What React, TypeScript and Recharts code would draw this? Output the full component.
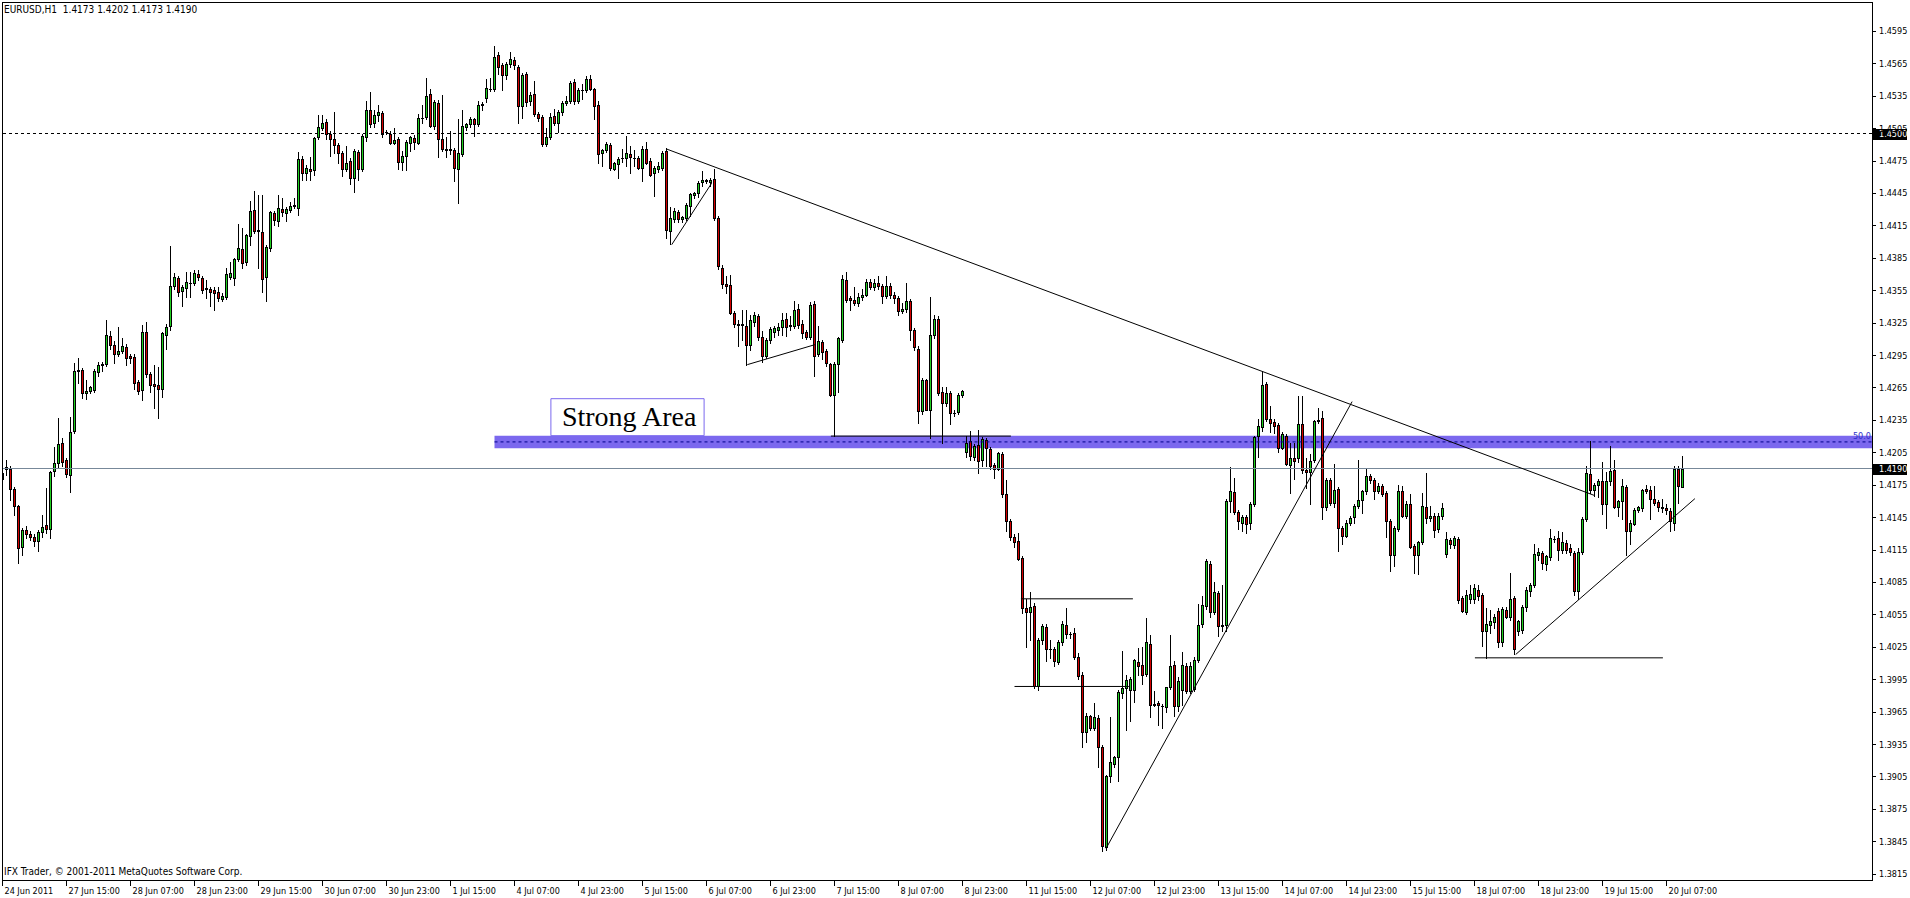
import React from 'react';
import {
  ComposedChart, Bar, XAxis, YAxis, ReferenceLine, ReferenceArea,
} from 'recharts';

// prices are stored as pips above BASE (1.3800)
const BASE = 1.38;

const OPEN = [
  380, 390, 390, 371, 355, 317, 333, 329, 327, 323,
  331, 338, 334, 388, 395, 414, 398, 384, 425, 480,
  481, 460, 462, 463, 479, 486, 487, 513, 504, 496,
  499, 502, 494, 493, 470, 463, 516, 477, 468, 467,
  464, 514, 522, 559, 566, 554, 557, 562, 562, 570,
  566, 556, 556, 555, 553, 547, 549, 567, 566, 584,
  593, 581, 605, 629, 611, 609, 567, 594, 626, 619,
  630, 626, 629, 633, 631, 676, 663, 667, 666, 697,
  705, 711, 700, 695, 689, 682, 667, 675, 659, 683,
  667, 697, 722, 710, 717, 719, 701, 700, 691, 695,
  674, 679, 691, 696, 691, 714, 715, 737, 707, 728,
  695, 686, 685, 685, 667, 681, 706, 709, 713, 709,
  726, 733, 741, 741, 773, 763, 754, 764, 768, 762,
  725, 755, 730, 737, 718, 715, 690, 697, 716, 710,
  720, 728, 730, 748, 730, 740, 740, 750, 741, 726,
  682, 685, 689, 667, 672, 677, 677, 681, 677, 677,
  668, 686, 675, 663, 667, 668, 684, 610, 621, 627,
  621, 622, 633, 643, 645, 655, 657, 655, 658, 622,
  576, 561, 560, 534, 524, 523, 522, 504, 526, 531,
  512, 494, 509, 516, 518, 521, 528, 522, 522, 538,
  524, 516, 512, 542, 496, 507, 499, 487, 458, 487,
  509, 564, 548, 546, 543, 549, 551, 563, 558, 562,
  559, 550, 559, 551, 548, 536, 538, 545, 518, 501,
  443, 472, 444, 514, 528, 461, 451, 460, 441, 442,
  458, 405, 415, 401, 412, 398, 416, 408, 393, 390,
  403, 366, 341, 327, 323, 307, 261, 257, 263, 189,
  231, 243, 223, 223, 211, 229, 245, 237, 238, 216,
  199, 146, 161, 150, 159, 132, 40, 105, 117, 123,
  182, 187, 185, 185, 211, 208, 200, 228, 171, 173,
  170, 169, 188, 208, 170, 185, 207, 184, 186, 213,
  246, 263, 302, 257, 275, 244, 245, 360, 368, 350,
  340, 345, 340, 357, 420, 428, 468, 436, 433, 430,
  409, 420, 393, 400, 400, 431, 389, 387, 398, 434,
  437, 354, 379, 358, 371, 335, 328, 340, 345, 355,
  361, 369, 383, 379, 369, 374, 367, 341, 310, 334,
  369, 346, 357, 318, 310, 322, 354, 344, 346, 334,
  346, 311, 324, 319, 325, 270, 257, 269, 269, 278,
  273, 240, 245, 248, 258, 229, 259, 253, 270, 240,
  241, 262, 277, 282, 310, 312, 302, 308, 325, 326,
  315, 321, 316, 312, 277, 313, 343, 385, 370, 375,
  378, 357, 378, 389, 354, 360, 373, 332, 339, 352,
  353, 371, 370, 362, 359, 354, 353, 351, 340, 390, 373,
];

const HIGH = [
  393, 398, 392, 373, 356, 335, 337, 332, 329, 333,
  347, 372, 388, 410, 437, 418, 400, 438, 488, 492,
  483, 472, 466, 482, 489, 489, 527, 517, 508, 521,
  511, 505, 496, 496, 472, 523, 526, 479, 486, 484,
  516, 524, 596, 571, 568, 560, 572, 572, 574, 574,
  568, 564, 558, 558, 558, 552, 576, 581, 585, 616,
  613, 607, 638, 647, 643, 643, 597, 628, 628, 643,
  640, 632, 637, 640, 683, 679, 671, 678, 697, 717,
  717, 713, 702, 720, 691, 684, 688, 677, 686, 685,
  700, 730, 738, 722, 726, 721, 703, 702, 705, 697,
  684, 694, 698, 699, 718, 726, 751, 741, 731, 731,
  736, 697, 702, 687, 713, 722, 710, 715, 714, 730,
  729, 750, 751, 781, 775, 765, 766, 775, 771, 763,
  756, 757, 738, 749, 720, 717, 705, 719, 723, 722,
  730, 735, 749, 750, 742, 746, 753, 754, 742, 730,
  686, 692, 691, 674, 678, 686, 698, 688, 685, 679,
  688, 692, 677, 670, 674, 684, 687, 632, 631, 629,
  624, 636, 645, 646, 656, 665, 658, 659, 667, 624,
  578, 568, 569, 536, 527, 537, 537, 532, 535, 533,
  517, 511, 521, 522, 525, 534, 534, 531, 545, 542,
  527, 518, 544, 545, 522, 509, 501, 488, 489, 512,
  569, 572, 550, 558, 552, 556, 565, 565, 565, 568,
  561, 568, 562, 553, 550, 543, 562, 547, 520, 503,
  474, 473, 549, 532, 531, 465, 465, 462, 444, 460,
  463, 420, 425, 413, 426, 419, 418, 410, 395, 405,
  405, 379, 343, 329, 330, 309, 269, 276, 266, 233,
  246, 246, 231, 225, 231, 249, 261, 239, 242, 219,
  202, 164, 162, 173, 162, 134, 106, 160, 124, 185,
  221, 199, 197, 214, 224, 225, 252, 236, 184, 175,
  172, 188, 236, 212, 197, 220, 210, 211, 216, 265,
  272, 306, 304, 285, 277, 282, 362, 391, 381, 352,
  347, 347, 359, 420, 436, 479, 470, 448, 436, 432,
  424, 422, 414, 414, 457, 457, 400, 403, 435, 446,
  443, 381, 381, 394, 373, 337, 342, 346, 357, 398,
  370, 390, 385, 381, 377, 376, 369, 343, 337, 375,
  374, 360, 366, 320, 323, 367, 386, 355, 349, 349,
  358, 331, 326, 328, 327, 272, 278, 282, 283, 282,
  275, 261, 259, 255, 261, 262, 262, 293, 272, 250,
  264, 280, 284, 320, 316, 314, 310, 334, 328, 332,
  331, 324, 320, 314, 316, 345, 392, 415, 377, 380,
  396, 387, 411, 398, 361, 380, 375, 342, 353, 355,
  371, 375, 374, 374, 361, 362, 357, 353, 392, 392, 402,
];

const LOW = [
  372, 384, 361, 347, 303, 310, 326, 324, 318, 314,
  327, 330, 326, 383, 391, 392, 382, 368, 423, 469,
  455, 454, 460, 461, 476, 480, 485, 501, 488, 494,
  497, 486, 488, 464, 459, 453, 475, 461, 446, 437,
  456, 501, 518, 556, 550, 540, 549, 549, 560, 564,
  552, 548, 540, 537, 545, 545, 547, 565, 560, 582,
  576, 578, 597, 608, 576, 553, 545, 591, 615, 614,
  624, 619, 627, 631, 625, 657, 657, 657, 662, 695,
  703, 695, 679, 682, 673, 661, 665, 653, 646, 657,
  665, 693, 706, 706, 712, 697, 700, 690, 690, 667,
  666, 666, 684, 686, 690, 710, 713, 706, 704, 678,
  684, 678, 681, 656, 636, 679, 703, 706, 698, 707,
  722, 729, 739, 739, 755, 740, 750, 762, 760, 710,
  714, 725, 726, 716, 712, 688, 688, 695, 708, 701,
  717, 726, 728, 727, 728, 732, 738, 740, 713, 673,
  670, 683, 666, 666, 659, 674, 670, 663, 670, 667,
  656, 672, 661, 642, 664, 666, 603, 598, 618, 618,
  618, 620, 624, 640, 641, 651, 654, 651, 620, 575,
  557, 552, 533, 521, 503, 509, 486, 500, 522, 509,
  489, 492, 506, 512, 514, 514, 513, 518, 520, 520,
  511, 510, 510, 476, 494, 491, 485, 457, 420, 461,
  507, 544, 537, 541, 540, 546, 550, 556, 555, 556,
  543, 548, 548, 543, 532, 534, 535, 509, 500, 432,
  440, 444, 418, 511, 458, 414, 448, 431, 439, 440,
  456, 401, 398, 398, 386, 392, 392, 390, 381, 389,
  364, 332, 324, 317, 305, 256, 225, 231, 187, 185,
  228, 212, 215, 207, 209, 227, 233, 233, 214, 195,
  132, 137, 148, 148, 114, 36, 37, 100, 114, 101,
  178, 148, 156, 174, 199, 191, 198, 160, 170, 153,
  150, 165, 186, 161, 166, 171, 182, 182, 184, 211,
  243, 260, 253, 255, 235, 240, 240, 350, 348, 334,
  332, 330, 334, 355, 401, 425, 434, 424, 423, 405,
  408, 393, 367, 380, 396, 386, 372, 357, 396, 432,
  343, 352, 356, 354, 314, 320, 327, 338, 340, 353,
  349, 366, 377, 362, 367, 365, 327, 295, 300, 332,
  345, 344, 316, 293, 292, 320, 340, 341, 327, 331,
  343, 308, 316, 316, 266, 257, 255, 266, 266, 268,
  226, 215, 238, 242, 225, 226, 252, 250, 218, 236,
  238, 258, 272, 280, 305, 297, 296, 305, 322, 305,
  312, 312, 310, 273, 269, 311, 341, 367, 365, 364,
  348, 335, 375, 353, 346, 343, 310, 320, 338, 350,
  351, 367, 343, 356, 351, 350, 348, 332, 333, 358, 373,
];

const CLOSE = [
  386, 391, 371, 355, 316, 333, 329, 327, 323, 331,
  336, 334, 387, 395, 413, 396, 385, 424, 480, 481,
  460, 462, 465, 480, 486, 487, 514, 504, 496, 499,
  503, 492, 492, 469, 462, 516, 477, 467, 466, 464,
  515, 521, 559, 567, 553, 558, 563, 562, 571, 567,
  555, 557, 553, 552, 548, 550, 570, 571, 584, 594,
  580, 606, 628, 610, 610, 565, 595, 627, 620, 631,
  627, 630, 633, 634, 676, 663, 668, 665, 696, 706,
  710, 700, 695, 689, 682, 667, 673, 659, 684, 667,
  698, 722, 709, 717, 720, 700, 701, 691, 694, 674,
  679, 692, 697, 692, 714, 714, 735, 707, 729, 695,
  686, 685, 686, 668, 682, 707, 709, 713, 709, 726,
  727, 742, 741, 771, 762, 754, 764, 769, 763, 725,
  754, 729, 736, 718, 714, 690, 697, 715, 710, 720,
  728, 730, 747, 730, 740, 740, 750, 741, 725, 681,
  685, 690, 668, 673, 676, 677, 682, 678, 677, 668,
  686, 673, 662, 668, 670, 682, 611, 622, 628, 621,
  623, 634, 644, 645, 654, 657, 656, 657, 622, 577,
  561, 559, 534, 524, 523, 524, 504, 527, 532, 512,
  494, 509, 519, 520, 521, 527, 521, 523, 537, 523,
  515, 512, 541, 494, 508, 498, 488, 458, 487, 511,
  565, 546, 546, 543, 549, 551, 563, 558, 562, 559,
  550, 559, 551, 548, 536, 538, 545, 518, 502, 443,
  472, 444, 514, 528, 460, 451, 460, 441, 441, 458,
  462, 414, 402, 411, 397, 417, 409, 392, 390, 404,
  366, 341, 327, 322, 306, 261, 257, 262, 189, 231,
  244, 223, 223, 212, 229, 246, 237, 237, 216, 198,
  146, 161, 150, 160, 132, 41, 105, 118, 123, 183,
  187, 194, 195, 213, 207, 199, 229, 171, 172, 171,
  170, 188, 207, 170, 193, 208, 184, 207, 213, 245,
  264, 304, 257, 276, 244, 245, 360, 369, 350, 341,
  345, 339, 357, 419, 429, 467, 436, 432, 429, 409,
  422, 394, 400, 397, 431, 389, 387, 397, 434, 435,
  354, 379, 358, 370, 335, 328, 340, 344, 355, 361,
  369, 383, 379, 369, 374, 366, 341, 310, 335, 369,
  346, 357, 317, 310, 322, 355, 344, 346, 333, 346,
  353, 325, 320, 326, 268, 258, 273, 274, 279, 272,
  240, 246, 249, 253, 229, 260, 253, 269, 223, 249,
  262, 278, 282, 311, 313, 303, 309, 326, 325, 315,
  322, 315, 313, 277, 313, 343, 386, 370, 375, 378,
  357, 378, 388, 354, 360, 374, 332, 340, 352, 354,
  370, 369, 362, 358, 354, 353, 352, 341, 390, 374, 390,
];

const X_TICKS = [0, 16, 32, 48, 64, 80, 96, 112, 128, 144, 160, 176, 192, 208, 224,
  240, 256, 272, 288, 304, 320, 336, 352, 368, 384, 400, 416];
const X_LABELS = ['24 Jun 2011', '27 Jun 15:00', '28 Jun 07:00', '28 Jun 23:00', '29 Jun 15:00',
  '30 Jun 07:00', '30 Jun 23:00', '1 Jul 15:00', '4 Jul 07:00', '4 Jul 23:00', '5 Jul 15:00',
  '6 Jul 07:00', '6 Jul 23:00', '7 Jul 15:00', '8 Jul 07:00', '8 Jul 23:00', '11 Jul 15:00',
  '12 Jul 07:00', '12 Jul 23:00', '13 Jul 15:00', '14 Jul 07:00', '14 Jul 23:00', '15 Jul 15:00',
  '18 Jul 07:00', '18 Jul 23:00', '19 Jul 15:00', '20 Jul 07:00'];
const Y_TICKS = [1.3815, 1.3845, 1.3875, 1.3905, 1.3935, 1.3965, 1.3995, 1.4025, 1.4055,
  1.4085, 1.4115, 1.4145, 1.4175, 1.4205, 1.4235, 1.4265, 1.4295, 1.4325, 1.4355, 1.4385,
  1.4415, 1.4445, 1.4475, 1.4505, 1.4535, 1.4565, 1.4595];

// hand drawn objects: [bar1, price1, bar2, price2]
const TRENDLINES = [
  [166.05, 1.44856, 398.1, 1.41649],
  [167.3, 1.43971, 177.3, 1.44541],
  [186.2, 1.42861, 203.1, 1.43046],
  [207.1, 1.4220, 252.1, 1.4220],
  [254.6, 1.40694, 282.6, 1.40694],
  [253.0, 1.39883, 281.6, 1.39883],
  [275.9, 1.38385, 337.4, 1.42519],
  [368.1, 1.40148, 415.1, 1.40148],
  [378.3, 1.40179, 423.1, 1.41621],
];
const FIB_START = 123;
const FIB_50 = 1.42146;
const FIB_BAND = [1.42087, 1.42204];
const NOTE_BOX = [137.1, 1.42204, 175.4, 1.42546];
const DASH_LEVEL = 1.45;
const BID = 1.419;

const X_MIN = -0.125;
const X_MAX = 467.375;
const Y_MIN = 1.380921;
const Y_MAX = 1.462169;

const GREEN = '#20d020';
const RED = '#d40000';
const FONT = '"DejaVu Sans Condensed", "Liberation Sans", sans-serif';

const rows = OPEN.map((o, i) => {
  const open = BASE + o / 10000;
  const close = BASE + CLOSE[i] / 10000;
  const high = BASE + HIGH[i] / 10000;
  const low = BASE + LOW[i] / 10000;
  return { idx: i, open, close, high, low, range: [low, high] };
});

const Candle = (props: any) => {
  const { x, y, width, height, payload } = props;
  if (x == null || y == null || !payload) return null;
  const top = Math.min(y, y + height);
  const h = Math.abs(height);
  const { open, close, high, low } = payload;
  const span = high - low;
  const toY = (p: number) => (span > 0 ? top + ((high - p) / span) * h : top);
  const cx = Math.floor(x + width / 2) + 0.5;
  const bTop = Math.round(toY(Math.max(open, close)));
  const bBot = Math.round(toY(Math.min(open, close)));
  return (
    <g>
      <line x1={cx} x2={cx} y1={Math.round(top)} y2={Math.round(top + h) + 1} stroke="#000" strokeWidth={1} />
      {bBot - bTop < 1 ? (
        <line x1={cx - 1.5} x2={cx + 1.5} y1={bTop + 0.5} y2={bTop + 0.5} stroke="#000" strokeWidth={1} />
      ) : (
        <rect x={cx - 1} y={bTop + 0.5} width={2} height={bBot - bTop}
          fill={close >= open ? GREEN : RED} stroke="#000" strokeWidth={1} />
      )}
    </g>
  );
};

const XTick = (props: any) => {
  const { x, y, payload } = props;
  const px = Math.floor(x) + 0.5;
  const k = X_TICKS.indexOf(payload.value);
  return (
    <g>
      <line x1={px} x2={px} y1={y + 1} y2={y + 6} stroke="#000" />
      <text x={px + 2} y={y + 14} fontSize={9} fontFamily={FONT} fill="#000">{X_LABELS[k]}</text>
    </g>
  );
};

const YTick = (props: any) => {
  const { x, y, payload } = props;
  const py = Math.round(y) + 0.5;
  return (
    <g>
      <line x1={x + 1} x2={x + 4} y1={py} y2={py} stroke="#000" />
      <text x={x + 7} y={y + 3.5} fontSize={9} fontFamily={FONT} fill="#000">
        {payload.value.toFixed(4)}
      </text>
    </g>
  );
};

const PriceTag = (props: any) => {
  const { viewBox, text } = props;
  if (!viewBox) return null;
  const right = viewBox.x + viewBox.width;
  const y = viewBox.y;
  return (
    <g>
      <rect x={right + 1} y={Math.round(y) - 5} width={34} height={11} fill="#000" />
      <text x={right + 7} y={y + 3.5} fontSize={9} fontFamily={FONT} fill="#fff">{text}</text>
    </g>
  );
};

const FibLabel = (props: any) => {
  const { viewBox } = props;
  if (!viewBox) return null;
  return (
    <text x={viewBox.x + viewBox.width - 1} y={viewBox.y - 3} textAnchor="end"
      fontSize={9} fontFamily={FONT} fill="#3030c8">50.0</text>
  );
};

const NoteLabel = (props: any) => {
  const { viewBox } = props;
  if (!viewBox) return null;
  return (
    <text x={viewBox.x + 11} y={viewBox.y + viewBox.height - 10}
      fontSize={28} fontFamily='"Liberation Serif", serif' fill="#000">Strong Area</text>
  );
};

export default function App() {
  return (
    <div style={{ position: 'absolute', left: 0, top: 0, width: 1910, height: 898, background: '#fff', fontFamily: FONT }}>
      <ComposedChart width={1910} height={898} data={rows} margin={{ top: 2, right: 0, bottom: 0, left: 2 }}>
        <XAxis
          dataKey="idx"
          type="number"
          domain={[X_MIN, X_MAX]}
          allowDataOverflow
          ticks={X_TICKS}
          interval={0}
          height={18}
          axisLine={false}
          tickLine={false}
          tickSize={0}
          tickMargin={0}
          tick={<XTick />}
        />
        <YAxis
          orientation="right"
          type="number"
          domain={[Y_MIN, Y_MAX]}
          allowDataOverflow
          ticks={Y_TICKS}
          interval={0}
          width={38}
          axisLine={false}
          tickLine={false}
          tickSize={0}
          tickMargin={0}
          tick={<YTick />}
        />
        <ReferenceArea x1={FIB_START} x2={X_MAX} y1={FIB_BAND[0]} y2={FIB_BAND[1]}
          fill="#7b68ee" fillOpacity={1} stroke="none" ifOverflow="visible" />
        <ReferenceLine segment={[{ x: FIB_START, y: FIB_50 }, { x: X_MAX, y: FIB_50 }]}
          stroke="#00008b" strokeDasharray="3 3" />
        <ReferenceLine y={FIB_50} stroke="none" label={<FibLabel />} />
        <ReferenceArea x1={NOTE_BOX[0]} x2={NOTE_BOX[2]} y1={NOTE_BOX[1]} y2={NOTE_BOX[3]}
          fill="#fff" fillOpacity={1} stroke="#7b68ee" strokeWidth={1} label={<NoteLabel />} />
        <ReferenceLine y={DASH_LEVEL} stroke="#000" strokeDasharray="3 3"
          label={<PriceTag text="1.4500" />} />
        <ReferenceLine y={BID} stroke="#778899" label={<PriceTag text="1.4190" />} />
        <Bar dataKey="range" barSize={3} shape={<Candle />} isAnimationActive={false} />
        {TRENDLINES.map((t, k) => (
          <ReferenceLine key={k} segment={[{ x: t[0], y: t[1] }, { x: t[2], y: t[3] }]}
            stroke="#000" strokeWidth={1} />
        ))}
      </ComposedChart>
      <div style={{ position: 'absolute', left: 2, top: 2, width: 1871, height: 879, boxSizing: 'border-box', border: '1px solid #000', pointerEvents: 'none' }} />
      <div style={{ position: 'absolute', left: 4, top: 4, fontSize: 10, lineHeight: '12px', color: '#000', whiteSpace: 'pre' }}>
        EURUSD,H1  1.4173 1.4202 1.4173 1.4190
      </div>
      <div style={{ position: 'absolute', left: 4, top: 866, fontSize: 10, lineHeight: '12px', color: '#000', whiteSpace: 'pre' }}>
        IFX Trader, © 2001-2011 MetaQuotes Software Corp.
      </div>
    </div>
  );
}
